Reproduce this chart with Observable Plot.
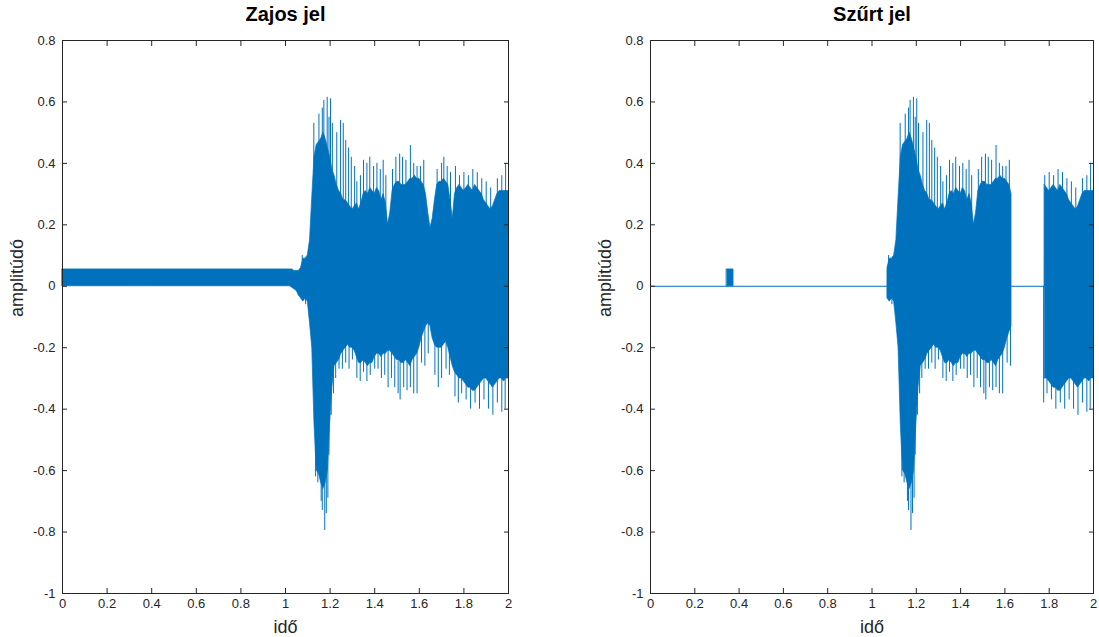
<!DOCTYPE html>
<html><head><meta charset="utf-8">
<script src="https://cdn.jsdelivr.net/npm/d3@7"></script>
<script src="https://cdn.jsdelivr.net/npm/@observablehq/plot@0.6"></script>
<style>
html,body{margin:0;padding:0;background:#fff}
body{width:1099px;height:637px;overflow:hidden;position:relative;font-family:"Liberation Sans",Arial,sans-serif}
#left,#right{position:absolute;top:0}
#left{left:0}
#right{left:550px}
</style></head>
<body><div id="left"></div><div id="right"></div>
<script>
// ---- data ----
const titles = ["Zajos jel", "Szűrt jel"];
const xLabel = "idő";
const yLabel = "amplitúdó";
const xTicks = [0, 0.2, 0.4, 0.6, 0.8, 1, 1.2, 1.4, 1.6, 1.8, 2];
const xTickLabels = ["0", "0.2", "0.4", "0.6", "0.8", "1", "1.2", "1.4", "1.6", "1.8", "2"];
const yTicks = [-1, -0.8, -0.6, -0.4, -0.2, 0, 0.2, 0.4, 0.6, 0.8];
const yTickLabels = ["-1", "-0.8", "-0.6", "-0.4", "-0.2", "0", "0.2", "0.4", "0.6", "0.8"];

// envelope of the dense signal (time, upper body, lower body)
const bodyT = [0, 0.345, 0.375,
  1.00,1.01,1.02,1.03,1.04,1.05,1.06,1.07,1.08,1.09,1.10,1.11,1.12,1.13,1.14,1.15,1.16,1.17,1.18,1.19,
  1.20,1.21,1.22,1.23,1.24,1.25,1.26,1.27,1.28,1.29,1.30,1.31,1.32,1.33,1.34,1.35,1.36,1.37,1.38,1.39,
  1.40,1.41,1.42,1.43,1.44,1.45,1.46,1.47,1.48,1.49,1.50,1.51,1.52,1.53,1.54,1.55,1.56,1.57,1.58,1.59,
  1.60,1.61,1.62,1.63,1.64,1.65,1.66,1.67,1.68,1.69,1.70,1.71,1.72,1.73,1.74,1.75,1.76,1.77,1.78,1.79,
  1.80,1.81,1.82,1.83,1.84,1.85,1.86,1.87,1.88,1.89,1.90,1.91,1.92,1.93,1.94,1.95,1.96,1.97,1.98,1.99,2.00];
const bodyHi = [0.055, 0.055, 0.055,
  0.055,0.055,0.055,0.055,0.05,0.05,0.05,0.06,0.09,0.09,0.10,0.15,0.29,0.42,0.46,0.47,0.48,0.50,0.48,0.45,
  0.42,0.38,0.36,0.33,0.31,0.30,0.28,0.28,0.27,0.26,0.25,0.26,0.27,0.25,0.27,0.30,0.31,0.30,0.32,0.31,
  0.30,0.32,0.31,0.28,0.30,0.27,0.20,0.24,0.31,0.33,0.34,0.34,0.33,0.33,0.33,0.34,0.35,0.35,0.36,0.35,
  0.35,0.34,0.33,0.30,0.24,0.19,0.22,0.28,0.33,0.34,0.34,0.35,0.34,0.33,0.28,0.22,0.30,0.32,0.33,0.32,
  0.31,0.32,0.33,0.32,0.31,0.33,0.32,0.31,0.30,0.28,0.27,0.26,0.25,0.26,0.28,0.30,0.31,0.31,0.31,0.31,0.31];
const bodyLo = [0, 0, 0,
  0,0,0,-0.005,-0.01,-0.015,-0.03,-0.04,-0.05,-0.04,-0.05,-0.12,-0.20,-0.45,-0.60,-0.61,-0.64,-0.66,-0.64,-0.60,
  -0.45,-0.33,-0.26,-0.25,-0.24,-0.22,-0.21,-0.20,-0.19,-0.20,-0.20,-0.21,-0.23,-0.25,-0.25,-0.24,-0.25,-0.26,-0.25,-0.25,
  -0.23,-0.22,-0.22,-0.23,-0.22,-0.22,-0.21,-0.21,-0.22,-0.23,-0.24,-0.24,-0.25,-0.25,-0.24,-0.25,-0.26,-0.24,-0.23,-0.22,
  -0.20,-0.17,-0.15,-0.13,-0.12,-0.13,-0.17,-0.19,-0.20,-0.20,-0.20,-0.19,-0.18,-0.20,-0.23,-0.26,-0.28,-0.29,-0.30,-0.30,
  -0.31,-0.32,-0.33,-0.33,-0.34,-0.34,-0.33,-0.32,-0.31,-0.30,-0.30,-0.31,-0.32,-0.33,-0.32,-0.31,-0.30,-0.30,-0.31,-0.30,-0.30];

// isolated peaks sticking out of the envelope
const peakUpT = [1.075,1.127,1.15,1.165,1.172,1.187,1.195,1.202,1.21,1.23,1.247,1.259,1.27,1.283,1.295,1.31,1.32,1.336,
  1.35,1.365,1.378,1.395,1.41,1.425,1.438,1.45,1.48,1.495,1.512,1.525,1.54,1.56,1.575,1.59,1.605,1.62,
  1.68,1.70,1.71,1.725,1.74,1.762,1.78,1.80,1.82,1.84,1.86,1.88,1.90,1.92,1.95,1.97,1.987];
const peakUpV = [0.10,0.53,0.56,0.58,0.605,0.615,0.55,0.61,0.53,0.50,0.54,0.53,0.475,0.45,0.42,0.39,0.34,0.36,
  0.41,0.40,0.42,0.39,0.40,0.38,0.41,0.36,0.38,0.42,0.43,0.42,0.41,0.458,0.40,0.39,0.39,0.41,
  0.38,0.40,0.42,0.39,0.37,0.39,0.36,0.37,0.36,0.38,0.37,0.35,0.34,0.32,0.35,0.36,0.40];
const peakLoT = [1.09,1.135,1.145,1.16,1.165,1.176,1.183,1.19,1.195,1.205,1.215,1.225,1.24,1.255,1.27,1.285,1.30,1.32,
  1.335,1.35,1.365,1.38,1.40,1.415,1.43,1.445,1.46,1.475,1.49,1.505,1.514,1.53,1.545,1.56,1.575,1.59,
  1.61,1.625,1.64,1.67,1.685,1.70,1.72,1.735,1.76,1.775,1.79,1.81,1.83,1.85,1.87,1.89,1.91,1.93,1.95,1.97,1.985];
const peakLoV = [-0.06,-0.62,-0.64,-0.70,-0.73,-0.795,-0.74,-0.69,-0.55,-0.42,-0.35,-0.30,-0.27,-0.27,-0.25,-0.27,-0.24,-0.30,
  -0.31,-0.28,-0.31,-0.29,-0.27,-0.27,-0.30,-0.29,-0.33,-0.30,-0.33,-0.35,-0.37,-0.33,-0.34,-0.33,-0.35,-0.35,
  -0.25,-0.26,-0.22,-0.29,-0.33,-0.30,-0.27,-0.29,-0.36,-0.38,-0.35,-0.37,-0.40,-0.38,-0.40,-0.37,-0.40,-0.42,-0.38,-0.41,-0.40];

// time spans that the filter lets through (everything else is 0)
const keepStart = [0.345, 1.07, 1.772];
const keepEnd   = [0.375, 1.637, 2.0];

// ---- build tables ----
const C = "#0072BD";
const INK = "#262626";
const kept = t => keepStart.some((s, i) => t >= s && t <= keepEnd[i]);
const body = bodyT.map((t, i) => ({t, hi: bodyHi[i], lo: bodyLo[i]}));
const peaks = peakUpT.map((t, i) => ({t, v: peakUpV[i]}))
  .concat(peakLoT.map((t, i) => ({t, v: peakLoV[i]})));
const bodyF = body.filter(d => !(d.t < 1.0) || kept(d.t)).map(d => kept(d.t) ? d : {t: d.t, hi: NaN, lo: NaN});
const peaksF = peaks.filter(d => kept(d.t));
const fmtX = d => xTickLabels[xTicks.indexOf(d)];
const fmtY = d => yTickLabels[yTicks.indexOf(d)];

function panel(title, bodyData, peakData, filtered, width, mLeft, mRight) {
  return Plot.plot({
    width, height: 637,
    marginLeft: mLeft, marginRight: mRight, marginTop: 40, marginBottom: 44,
    x: {domain: [0, 2]},
    y: {domain: [-1, 0.8]},
    style: {fontFamily: '"Liberation Sans", Arial, sans-serif', fontSize: "13px", color: INK, background: "white", overflow: "visible"},
    marks: [
      filtered ? Plot.ruleY([0], {stroke: C, strokeWidth: 1}) : null,
      Plot.areaY(bodyData, {x: "t", y1: "lo", y2: "hi", fill: C, stroke: C, strokeWidth: 0.7}),
      Plot.ruleX(peakData, {x: "t", y1: 0, y2: "v", stroke: C, strokeWidth: 1}),
      Plot.frame({stroke: INK, strokeWidth: 1}),
      // inward tick marks on all four sides
      Plot.axisX({anchor: "bottom", ticks: xTicks, tickSize: 5, dy: -5, tickFormat: () => "", label: null, stroke: INK}),
      Plot.axisX({anchor: "top", ticks: xTicks, tickSize: 5, dy: 5, tickFormat: () => "", label: null, stroke: INK}),
      Plot.axisY({anchor: "left", ticks: yTicks, tickSize: 5, dx: 5, tickFormat: () => "", label: null, stroke: INK}),
      Plot.axisY({anchor: "right", ticks: yTicks, tickSize: 5, dx: -5, tickFormat: () => "", label: null, stroke: INK}),
      // tick labels
      Plot.axisX({anchor: "bottom", ticks: xTicks, tickSize: 0, tickPadding: 5, tickFormat: fmtX, label: null, fontSize: 13, fill: INK}),
      Plot.axisY({anchor: "left", ticks: yTicks, tickSize: 0, tickPadding: 7, tickFormat: fmtY, label: null, fontSize: 13, fill: INK}),
      // titles and axis labels
      Plot.text([title], {text: d => d, frameAnchor: "top", dy: -26, lineAnchor: "middle", fontSize: 20, fontWeight: "bold", fill: "#000"}),
      Plot.text([xLabel], {text: d => d, frameAnchor: "bottom", dy: 34, lineAnchor: "middle", fontSize: 18, fill: INK}),
      Plot.text([yLabel], {text: d => d, frameAnchor: "left", dx: -45, rotate: -90, lineAnchor: "middle", fontSize: 18, fill: INK})
    ]
  });
}

document.getElementById("left").append(panel(titles[0], body, peaks, false, 550, 62, 42));
document.getElementById("right").append(panel(titles[1], bodyF, peaksF, true, 549, 100, 6));
</script>
</body></html>
